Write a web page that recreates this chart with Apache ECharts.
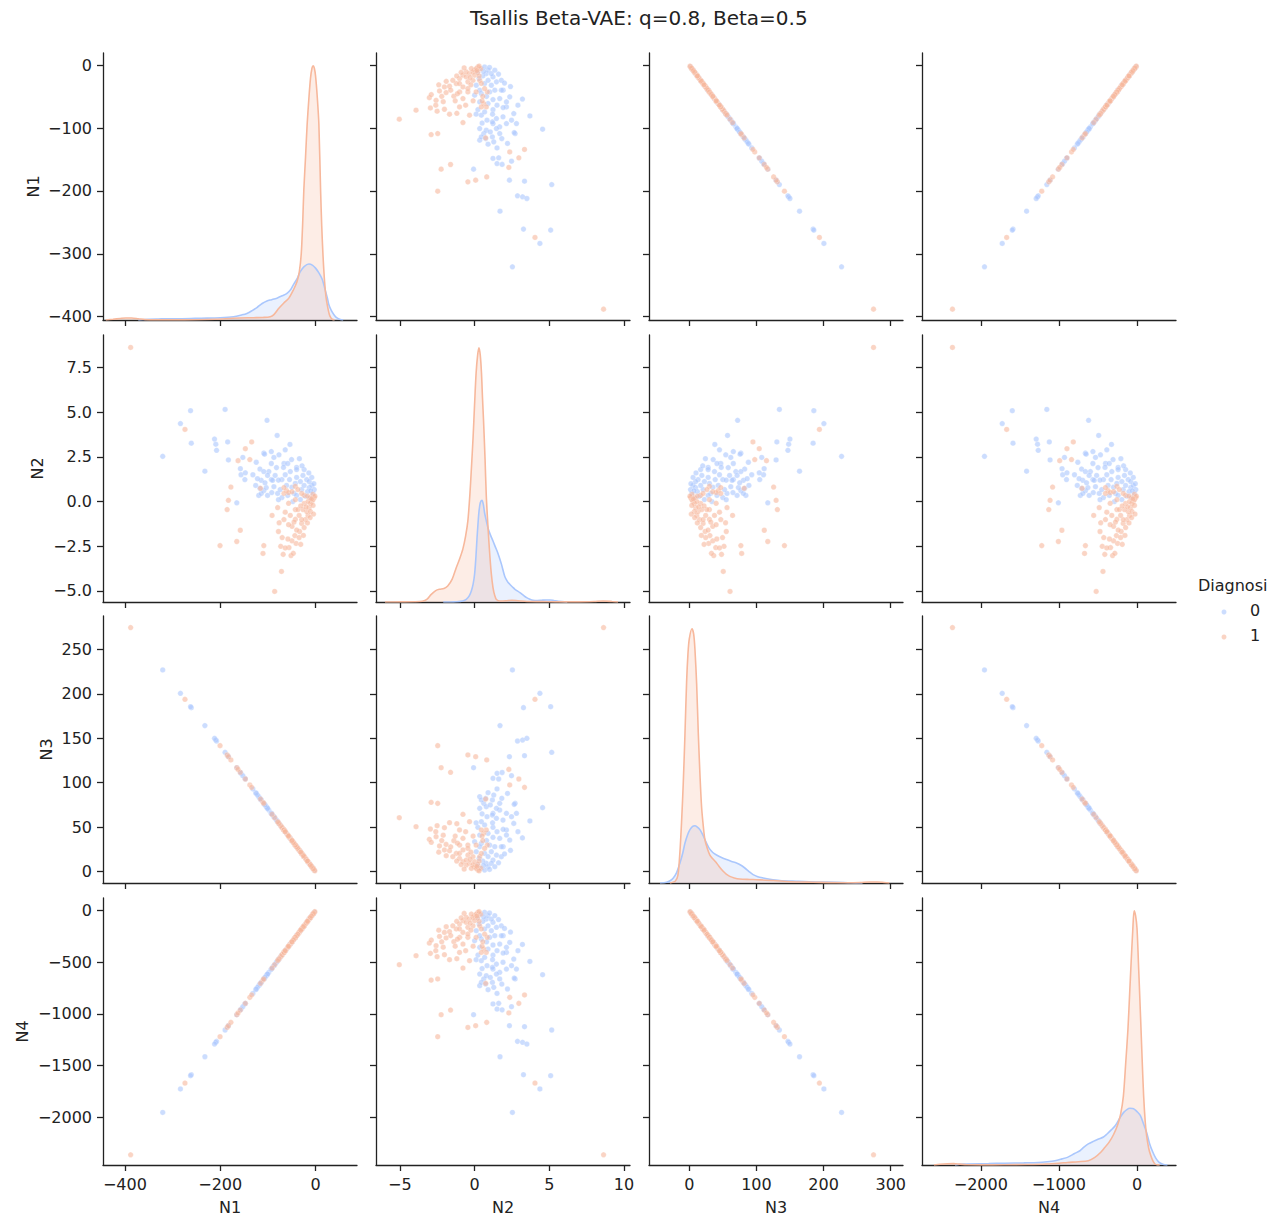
<!DOCTYPE html>
<html>
<head>
<meta charset="utf-8">
<title>Tsallis Beta-VAE pairplot</title>
<script src="https://cdn.jsdelivr.net/npm/echarts@6.0.0/dist/echarts.min.js"></script>
<style>
html,body{margin:0;padding:0;background:#fff;}
#chart{width:1280px;height:1218px;}
</style>
</head>
<body>
<div id="chart"></div>
<script>
// ---------------- DATA ----------------
const VARS = ['N1', 'N2', 'N3', 'N4'];
const CLASSES = ['0', '1'];

// Diagnosi = 0
const n1_0 = [-320.7,-283.5,-260.7,-262.3,-232.2,-207.7,-209.3,-212.0,-184.4,-189.8,-182.8,-165.3,-156.4,-157.7,-148.3,-147.3,-152.6,-101.8,-80.6,-108.6,-107.0,-116.7,-119.2,-125.6,-108.6,-92.8,-98.0,-87.4,-92.8,-76.8,-66.3,-50.3,-39.7,-114.0,-116.7,-100.7,-103.4,-114.0,-121.9,-108.6,-100.7,-90.1,-84.8,-92.8,-87.4,-79.5,-70.6,-74.2,-70.6,-63.6,-67.3,-58.3,-60.9,-54.6,-53.0,-58.3,-47.7,-45.1,-42.4,-39.7,-39.7,-31.8,-29.1,-31.8,-26.4,-23.9,-18.5,-13.3,-5.2,-7.9,-39.7,-13.3,-7.9,-2.7,-17.0,-21.2,-24.0,-3.5,-9.9,-11.3,-14.1,-28.3,-33.9,-49.5,-77.8,-91.9,-82.0,-63.6,-53.7,-77.8,-106.1,-124.4,-131.5];
const n2_0 = [2.53,4.37,3.27,5.09,1.70,2.87,3.21,3.50,3.34,5.16,2.33,-0.07,1.50,1.84,1.23,1.61,2.47,4.55,3.70,2.71,2.65,1.82,0.34,0.90,0.61,1.23,1.68,2.47,2.80,2.62,2.13,2.35,1.91,0.45,0.74,0.34,0.78,1.19,1.28,1.68,1.46,1.19,1.46,2.13,0.83,0.45,0.22,0.67,1.23,1.50,1.91,0.34,0.90,1.23,1.68,2.13,0.00,0.45,1.01,1.35,1.79,0.11,0.67,1.12,1.46,1.79,1.23,0.78,0.45,0.90,0.34,1.12,1.35,0.67,0.55,0.30,0.90,1.00,0.60,0.20,1.60,2.00,2.40,0.80,1.20,0.50,1.90,2.90,3.20,0.10,1.05,2.20,1.50];
const n3_0 = [226.8,200.5,184.4,185.5,164.2,146.9,148.0,149.9,130.4,134.2,129.3,116.9,110.6,111.5,104.9,104.2,107.9,72.0,57.0,76.8,75.7,82.5,84.3,88.8,76.8,65.6,69.3,61.8,65.6,54.3,46.9,35.6,28.1,80.6,82.5,71.2,73.1,80.6,86.2,76.8,71.2,63.7,60.0,65.6,61.8,56.2,49.9,52.5,49.9,45.0,47.6,41.2,43.1,38.6,37.5,41.2,33.7,31.9,30.0,28.1,28.1,22.5,20.6,22.5,18.7,16.9,13.1,9.4,3.7,5.6,28.1,9.4,5.6,1.9,12,15,17,2.5,7,8,10,20,24,35,55,65,58,45,38,55,75,88,93];
const n4_0 = [-1953,-1726,-1588,-1597,-1414,-1265,-1274,-1291,-1123,-1155,-1113,-1007,-952,-960,-903,-897,-929,-620,-491,-661,-652,-710,-726,-765,-661,-565,-597,-532,-565,-468,-404,-307,-242,-694,-710,-613,-629,-694,-742,-661,-613,-548,-517,-565,-532,-484,-430,-452,-430,-387,-410,-355,-371,-332,-323,-355,-290,-275,-258,-242,-242,-194,-177,-194,-161,-146,-113,-81,-32,-48,-242,-81,-48,-16,-103,-129,-146,-22,-60,-69,-86,-172,-207,-301,-474,-560,-499,-387,-327,-474,-646,-758,-801];

// Diagnosi = 1
const n1_1 = [-388.0,-274.0,-200.4,-185.5,-182.8,-177.6,-165.3,-157.9,-162.6,-147.3,-137.9,-134.0,-110.3,-108.6,-85.8,-71.5,-67.9,-73.1,-70.0,-77.9,-76.4,-91.2,-79.5,-66.3,-51.5,-55.7,-40.9,-43.4,-49.3,-53.0,-34.5,-33.4,-29.1,-23.9,-21.2,-15.8,-18.5,-13.3,-7.9,-2.7,-10.6,-10.6,-5.2,-5.2,-29.1,-34.5,-26.4,-23.9,-15.8,-42.4,-115.5,-60.9,-66.3,-66.3,-42.4,-37.0,-23.9,-37.0,-31.1,-56.6,-29.0,-56.6,-49.5,-63.6,-42.4,-39.6,-11.3,-5.7,-1.4,-19.8,-11.3,-17.0,-25.5,-31.1,-42.4,-45.2,-58.0,-63.6,-17.0,-4.2,-8.5,-46.7,-49.5,-56.6];
const n2_1 = [8.63,4.04,-2.47,-0.45,0.07,0.81,-2.24,-1.61,2.29,2.96,2.35,3.34,-2.91,-2.47,-5.04,-3.92,-2.96,-2.51,-2.02,-1.68,-1.19,-0.78,-0.34,-1.01,-3.03,-2.58,-2.35,-1.91,-1.39,-0.78,-2.02,-1.68,-1.23,-1.46,-1.01,-0.78,-0.56,-0.34,0.00,0.22,-0.11,-0.56,-0.22,0.11,-1.01,-0.78,-0.45,-0.11,0.00,-0.45,0.74,0.61,0.78,0.45,0.85,0.67,0.34,-0.45,-0.25,0.50,0.45,-1.30,-2.20,-2.60,-1.00,-1.60,0.20,0.40,0.30,-0.30,-0.90,-1.20,-1.90,-2.40,0.10,-1.15,-2.10,-0.60,0.30,-0.70,0.15,-2.90,0.55,-0.10];
const n3_1 = [274.4,193.8,141.7,131.2,129.3,125.6,116.9,111.7,115.0,104.2,97.5,94.8,78.0,76.8,60.7,50.6,48.0,51.7,49.5,55.1,54.0,64.5,56.2,46.9,36.4,39.4,28.9,30.7,34.9,37.5,24.4,23.6,20.6,16.9,15.0,11.2,13.1,9.4,5.6,1.9,7.5,7.5,3.7,3.7,20.6,24.4,18.7,16.9,11.2,30.0,81.7,43.1,46.9,46.9,30.0,26.2,16.9,26.2,22,40,20.5,40,35,45,30,28,8,4,1,14,8,12,18,22,30,32,41,45,12,3,6,33,35,40];
const n4_1 = [-2363,-1669,-1220,-1130,-1113,-1081,-1007,-962,-990,-897,-839,-816,-672,-661,-523,-436,-413,-445,-426,-474,-465,-555,-484,-404,-313,-339,-249,-264,-300,-323,-210,-203,-177,-146,-129,-96,-113,-81,-48,-16,-65,-65,-32,-32,-177,-210,-161,-146,-96,-258,-703,-371,-404,-404,-258,-226,-146,-226,-189,-344,-177,-344,-301,-387,-258,-241,-69,-34,-9,-121,-69,-103,-155,-189,-258,-276,-353,-387,-103,-26,-52,-284,-301,-344];

// KDE curves: [value, relative density (orange N-peak = 100)]
const kdeN1_0 = [[-372,0],[-350,0.3],[-330,0.4],[-300,0.5],[-280,0.5],[-240,0.7],[-200,0.9],[-172,1.3],[-155,2],[-144,2.6],[-133,3.7],[-123,4.9],[-112,6.5],[-102,7.5],[-92,8],[-81,8.6],[-70,9.5],[-60,10.5],[-52,12],[-46,14],[-38,16.5],[-32,19],[-24,21],[-14,22],[-6,21.5],[0,20.4],[7,18.5],[14,16],[20,12],[25,8.5],[28,6],[33,3.8],[39,2],[45,0.8],[52,0.2],[58,0]];
const kdeN1_1 = [[-440,0],[-425,0.3],[-410,0.6],[-398,0.8],[-386,0.8],[-372,0.5],[-358,0.15],[-340,0.03],[-300,0.03],[-250,0.1],[-210,0.3],[-180,0.6],[-160,0.8],[-130,0.9],[-110,1],[-95,1.3],[-88,2],[-77,4.6],[-67,6.6],[-56,8.6],[-46,12],[-39,15],[-34,19],[-30,26],[-27,38],[-24.6,51],[-21,64],[-17.6,77],[-14,87],[-10.6,95],[-7.5,99],[-4.9,100],[-2.5,99],[0,96],[3.5,88],[7,77],[10.6,51],[13,37],[15.5,26],[19,15],[22,9],[26,4.6],[29,2.2],[31.7,1],[35,0.3],[40,0]];
const kdeN2_0 = [[-2.1,0],[-1.5,0.05],[-1.2,0.1],[-0.8,0.4],[-0.56,1],[-0.35,2.5],[-0.22,4.3],[-0.1,7],[0,11],[0.08,17],[0.16,25],[0.23,31],[0.3,36],[0.38,39],[0.49,40],[0.58,38.5],[0.67,35],[0.78,32],[0.9,29],[1.05,26.5],[1.23,24],[1.4,21.5],[1.57,19],[1.79,15],[2.02,10],[2.2,8],[2.35,7],[2.55,5.8],[2.7,5],[3.03,3.7],[3.25,2.7],[3.48,1.7],[3.7,1.1],[3.92,0.7],[4.2,0.6],[4.48,0.7],[4.8,0.8],[5.04,0.8],[5.3,0.6],[5.6,0.3],[6.2,0]];
const kdeN2_1 = [[-6.0,0],[-5,0.05],[-4,0.1],[-3.5,0.3],[-3.2,1],[-2.9,3],[-2.6,4.5],[-2.35,5],[-2.05,5.3],[-1.8,6.3],[-1.5,9],[-1.23,13.5],[-1.0,17],[-0.78,21],[-0.6,26],[-0.45,32],[-0.32,42],[-0.22,52],[-0.1,65],[0,78],[0.1,90],[0.2,97],[0.29,100],[0.38,97],[0.46,90],[0.53,80],[0.6,71],[0.7,56],[0.78,42],[0.9,29],[1.01,19],[1.12,11],[1.23,5.7],[1.35,2.5],[1.46,1],[1.7,0.4],[2.1,0.5],[2.5,0.7],[2.9,0.5],[3.5,0.2],[4.5,0.15],[5.5,0.05],[7,0.05],[8,0.2],[8.6,0.4],[9.2,0.2],[9.6,0]];
const kdeN3_0 = [[-43.6,0],[-33.7,0.3],[-28,1],[-23.8,2],[-19,4],[-13.9,7.9],[-10,11.5],[-6.4,15.7],[-2.5,19],[1,21],[5,22.3],[8.4,22.5],[12,22],[15.8,21],[20,19],[25.7,15.7],[30,13.5],[35,12],[40.6,11],[48,10],[55.4,9.2],[63,8.5],[70.3,7.9],[77,7],[82.7,5.9],[89,4.5],[95,3.3],[102,2.5],[110,2],[120,1.5],[134.7,1],[159,0.7],[189,0.4],[219,0.3],[240,0.1],[258,0]];
const kdeN3_1 = [[-28.7,0],[-21,0.7],[-17,3],[-14,12],[-11.5,24],[-9,39],[-6.5,58],[-4,79],[-2,90],[0,96],[4,100],[6.5,98],[8.4,92],[11,78],[13.4,59],[16,42],[18.3,30],[21,22],[23.3,17],[27,13.5],[30.7,11],[35,9.5],[40.6,7.9],[45,6.3],[50.5,4.6],[55,3.5],[60.4,2.6],[67,2],[75,1.6],[90,1.4],[100,1.3],[125,1],[150,0.5],[184,0.3],[234,0.1],[255,0.2],[268,0.4],[280,0.4],[290,0.2],[298,0]];
const kdeN4_0 = [[-2330,0],[-2224,0.4],[-1900,0.55],[-1691,0.7],[-1450,0.85],[-1264,1],[-1150,1.3],[-1051,1.7],[-960,2.4],[-891,3],[-800,4.5],[-731,5.6],[-680,7],[-624,8.3],[-560,9.3],[-491,10.2],[-430,11],[-384,12.2],[-330,13.8],[-277,15.5],[-220,18.5],[-171,20.7],[-130,21.8],[-91,22.3],[-60,22.2],[-37,22],[0,21],[43,19.4],[85,16],[123,12.8],[160,8.5],[203,5],[240,2.7],[283,1],[330,0.3],[389,0]];
const kdeN4_1 = [[-2600,0],[-2520,0.3],[-2430,0.5],[-2350,0.55],[-2270,0.35],[-2180,0.1],[-2000,0.05],[-1700,0.1],[-1400,0.2],[-1160,0.4],[-1000,0.7],[-890,1],[-750,1.3],[-624,1.7],[-540,3],[-464,5],[-410,7],[-357,9],[-300,12],[-251,15.5],[-210,20],[-175,27],[-145,40],[-117,53],[-95,67],[-75,80],[-55,92],[-37,100],[-18,98],[0,93],[20,78],[43,60],[65,42],[85,27],[105,17],[123,11.5],[150,6.5],[176,3.7],[205,1.5],[229,0.4],[260,0.05],[290,0]];

// Tick labels
const xTicks = { N1: [-400, -200, 0], N2: [-5, 0, 5, 10], N3: [0, 100, 200, 300], N4: [-2000, -1000, 0] };
const yTicks = { N1: [-400, -300, -200, -100, 0], N2: [-5, -2.5, 0, 2.5, 5, 7.5], N3: [0, 50, 100, 150, 200, 250], N4: [-2000, -1500, -1000, -500, 0] };

// ---------------- LAYOUT / STYLE ----------------
const BLUE = '#aac7fd', ORANGE = '#f7b89c', INK = '#222222';
const FONT = '"DejaVu Sans", "Liberation Sans", sans-serif';
const colLeft = [103, 376, 649, 922], rowTop = [53, 335, 616, 898];
const W = 254, H = 267;
const xLim = { N1: [-446, 87], N2: [-6.6, 10.4], N3: [-60, 318.3], N4: [-2753, 499] };
const yLim = { N1: [-405.3, 19.5], N2: [-5.63, 9.33], N3: [-12.7, 287.4], N4: [-2462, 123] };
const yNameGap = [62, 58, 49, 73];
const yDecimals = { N1: false, N2: true, N3: false, N4: false };

const vals = [
  { N1: n1_0, N2: n2_0, N3: n3_0, N4: n4_0 },
  { N1: n1_1, N2: n2_1, N3: n3_1, N4: n4_1 }
];
const kdes = { N1: [kdeN1_0, kdeN1_1], N2: [kdeN2_0, kdeN2_1], N3: [kdeN3_0, kdeN3_1], N4: [kdeN4_0, kdeN4_1] };
const colors = [BLUE, ORANGE];

function lab(v, dec) {
  const s = dec ? Number(v).toFixed(1) : String(v);
  return s.replace('-', '\u2212');
}

const lineStyle = { color: INK, width: 1.3 };
const grids = [], xAxes = [], yAxes = [], series = [];

for (let r = 0; r < 4; r++) {
  for (let c = 0; c < 4; c++) {
    const g = r * 4 + c;
    const xv = VARS[c], yv = VARS[r];
    grids.push({ left: colLeft[c], top: rowTop[r], width: W, height: H, containLabel: false, outerBoundsMode: 'none' });
    xAxes.push({
      type: 'value', gridIndex: g, min: xLim[xv][0], max: xLim[xv][1],
      axisLine: { show: true, onZero: false, lineStyle },
      axisTick: { show: true, inside: false, length: 6, lineStyle, customValues: xTicks[xv] },
      axisLabel: { show: r === 3, customValues: xTicks[xv], formatter: v => lab(v, false), fontSize: 16, fontFamily: FONT, color: INK, margin: 11 },
      splitLine: { show: false },
      name: r === 3 ? xv : '', nameLocation: 'middle', nameGap: 34,
      nameTextStyle: { fontSize: 16, fontFamily: FONT, color: INK }
    });
    yAxes.push({
      type: 'value', gridIndex: g, min: yLim[yv][0], max: yLim[yv][1],
      axisLine: { show: true, onZero: false, lineStyle },
      axisTick: { show: true, inside: false, length: 6, lineStyle, customValues: yTicks[yv] },
      axisLabel: { show: c === 0, customValues: yTicks[yv], formatter: v => lab(v, yDecimals[yv]), fontSize: 16, fontFamily: FONT, color: INK, margin: 11 },
      splitLine: { show: false },
      name: c === 0 ? yv : '', nameLocation: 'middle', nameGap: yNameGap[r], nameRotate: 90,
      nameTextStyle: { fontSize: 16, fontFamily: FONT, color: INK }
    });
    if (r !== c) {
      for (let k = 0; k < 2; k++) {
        const xs = vals[k][xv], ys = vals[k][yv];
        series.push({
          type: 'scatter', name: CLASSES[k], xAxisIndex: g, yAxisIndex: g,
          data: xs.map((x, i) => [x, ys[i]]),
          symbolSize: 5.5, silent: true, animation: false,
          itemStyle: { color: colors[k], opacity: 0.6, borderColor: '#ffffff', borderWidth: 0.4 }
        });
      }
    }
  }
}

// density axes for the diagonal panels
for (let r = 0; r < 4; r++) {
  yAxes.push({ type: 'value', gridIndex: r * 5, min: 0, max: 105, show: false, splitLine: { show: false } });
  for (let k = 0; k < 2; k++) {
    series.push({
      type: 'line', name: CLASSES[k], xAxisIndex: r * 5, yAxisIndex: 16 + r,
      data: kdes[VARS[r]][k], showSymbol: false, symbol: 'none', smooth: 0.3,
      silent: true, animation: false,
      lineStyle: { color: colors[k], width: 1.6 },
      areaStyle: { color: colors[k], opacity: 0.25 }
    });
  }
}

const option = {
  backgroundColor: '#ffffff',
  animation: false,
  title: {
    text: 'Tsallis Beta-VAE: q=0.8, Beta=0.5', left: 465, top: 3,
    textStyle: { fontSize: 20, fontWeight: 'normal', fontFamily: FONT, color: INK }
  },
  grid: grids, xAxis: xAxes, yAxis: yAxes, series,
  graphic: [
    { type: 'text', left: 1198, top: 577, style: { text: 'Diagnosi', font: '16px ' + FONT, fill: INK } },
    { type: 'circle', shape: { cx: 1224, cy: 612, r: 2.5 }, style: { fill: BLUE, opacity: 0.6 } },
    { type: 'text', left: 1250, top: 602, style: { text: '0', font: '16px ' + FONT, fill: INK } },
    { type: 'circle', shape: { cx: 1224, cy: 637, r: 2.5 }, style: { fill: ORANGE, opacity: 0.6 } },
    { type: 'text', left: 1250, top: 627, style: { text: '1', font: '16px ' + FONT, fill: INK } }
  ]
};

const chart = echarts.init(document.getElementById('chart'), null, { renderer: 'svg', width: 1280, height: 1218 });
chart.setOption(option);
</script>
</body>
</html>
